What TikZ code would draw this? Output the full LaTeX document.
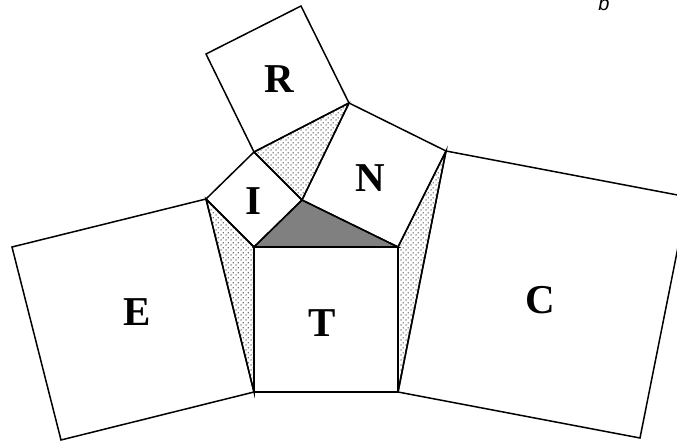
\documentclass[tikz,border=0pt]{standalone}
\usepackage{fontspec}
\setmainfont{Liberation Serif}
\newfontfamily\labsans{Liberation Sans}
\usetikzlibrary{patterns.meta}
\pgfdeclarepattern{
  name=stipple, type=uncolored,
  bottom left={\pgfpoint{0pt}{0pt}}, top right={\pgfpoint{5pt}{5pt}},
  tile size={\pgfpoint{5pt}{5pt}},
  code={
    \pgfpathcircle{\pgfpoint{1.25pt}{1.25pt}}{0.8pt}
    \pgfpathcircle{\pgfpoint{3.75pt}{3.75pt}}{0.8pt}
    \pgfusepath{fill}
  }
}
\tikzset{
  edge/.style={draw=black, line width=1.5pt, line join=miter},
  dotted tri/.style={edge, pattern={stipple}, pattern color=black!85},
  core tri/.style={edge, fill=black!50},
  lab/.style={font=\fontsize{41}{41}\selectfont\bfseries, inner sep=0pt},
}
\begin{document}
\begin{tikzpicture}[x=1pt, y=-1pt]
\useasboundingbox (0,0) rectangle (677,441);
\clip (0,0) rectangle (677,441);
% central triangle
\coordinate (A) at (302,200);
\coordinate (B) at (254,247);
\coordinate (Cv) at (398,247);
% T square
\coordinate (Tb) at (254,392);
\coordinate (Tc) at (398,392);
% I square
\coordinate (I1) at (206,199);
\coordinate (I2) at (254,152);
% N square
\coordinate (N1) at (349,103);
\coordinate (N2) at (446,151);
% R square
\coordinate (R1) at (301,6);
\coordinate (R2) at (206,54);
% E square
\coordinate (E1) at (12,247);
\coordinate (E2) at (61,440);
% C square
\coordinate (C1) at (688,197);
\coordinate (C2) at (640,438);

\path[dotted tri] (I2) -- (N1) -- (A) -- cycle;
\path[dotted tri] (I1) -- (B) -- (Tb) -- cycle;
\path[dotted tri] (Cv) -- (N2) -- (Tc) -- cycle;
\path[core tri] (A) -- (B) -- (Cv) -- cycle;

\draw[edge] (B) -- (Cv) -- (Tc) -- (Tb) -- cycle;
\draw[edge] (A) -- (B) -- (I1) -- (I2) -- cycle;
\draw[edge] (A) -- (Cv) -- (N2) -- (N1) -- cycle;
\draw[edge] (I2) -- (N1) -- (R1) -- (R2) -- cycle;
\draw[edge] (I1) -- (E1) -- (E2) -- (Tb) -- cycle;
\draw[edge] (Tc) -- (N2) -- (C1) -- (C2) -- cycle;

\node[lab] (labR) at (279,79) {R};
\node[lab] (labN) at (370,178) {N};
\node[lab] (labI) at (253,201) {I};
\node[lab] (labE) at (137,312) {E};
\node[lab] (labT) at (322,323) {T};
\node[lab] (labC) at (540,300) {C};
\node[anchor=base, inner sep=0pt, font=\labsans\itshape\fontsize{20}{20}\selectfont] (labb) at (604,11) {b};
\end{tikzpicture}
\end{document}
